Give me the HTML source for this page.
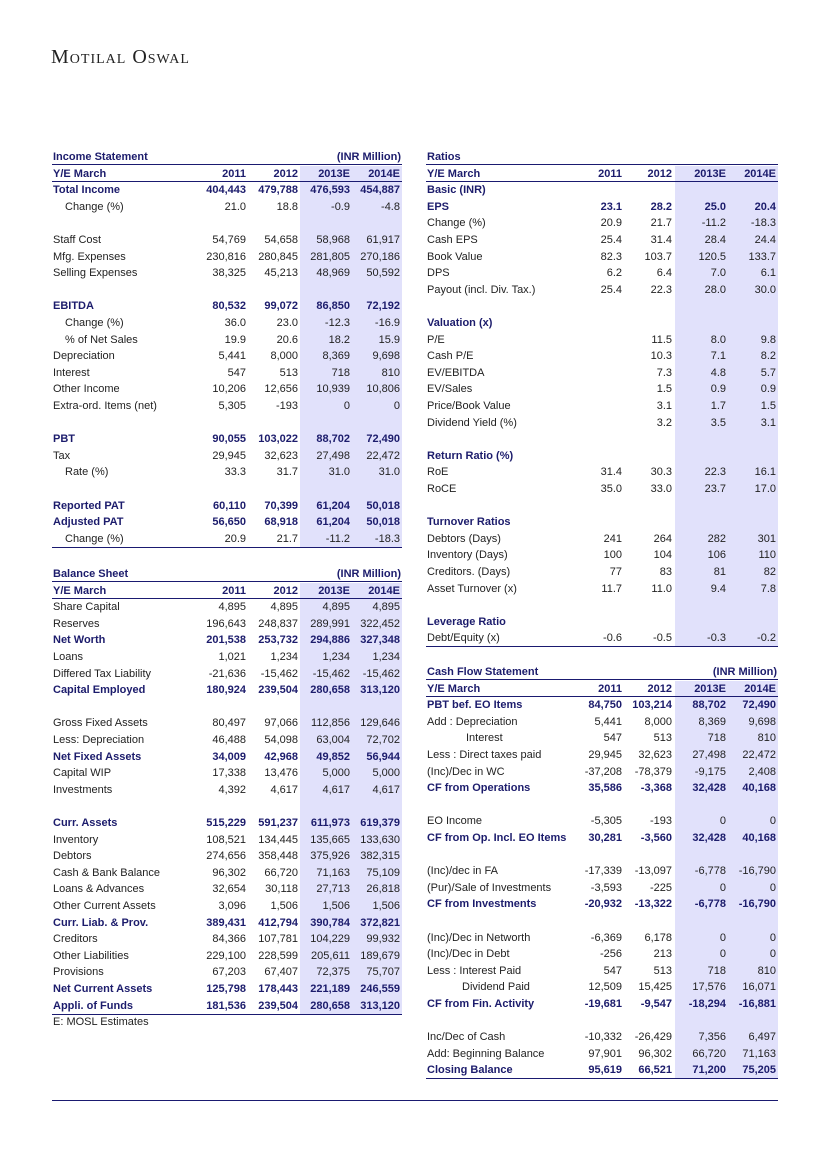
<!DOCTYPE html>
<html><head><meta charset="utf-8"><style>
body{margin:0;background:#fff;}
#page{position:relative;width:826px;height:1169px;overflow:hidden;background:#fff;font-family:"Liberation Sans",sans-serif;font-size:11px;color:#222;}
.logo{position:absolute;left:51px;top:46px;font-family:"Liberation Serif",serif;font-size:20px;font-variant:small-caps;letter-spacing:1px;color:#222;}
.shade{position:absolute;background:#e1e1fb;}
.hl{position:absolute;height:0;border-top:1.5px solid #1a1a70;}
.cell{position:absolute;height:16px;line-height:16px;white-space:nowrap;}
.num{text-align:right;width:60px;}
.b{font-weight:bold;color:#1c1c6c;}
</style></head><body>
<div id="page">
<div class="logo">Motilal Oswal</div>
<div class="hl" style="left:52px;top:1100px;width:726px;"></div>
</div>
<script>
// Income statement
const incYears=["2011","2012","2013E","2014E"];
const incRows=[
["Total Income",["404,443","479,788","476,593","454,887"],1,0],
["Change (%)",["21.0","18.8","-0.9","-4.8"],0,1],
null,
["Staff Cost",["54,769","54,658","58,968","61,917"],0,0],
["Mfg. Expenses",["230,816","280,845","281,805","270,186"],0,0],
["Selling Expenses",["38,325","45,213","48,969","50,592"],0,0],
null,
["EBITDA",["80,532","99,072","86,850","72,192"],1,0],
["Change (%)",["36.0","23.0","-12.3","-16.9"],0,1],
["% of Net Sales",["19.9","20.6","18.2","15.9"],0,1],
["Depreciation",["5,441","8,000","8,369","9,698"],0,0],
["Interest",["547","513","718","810"],0,0],
["Other Income",["10,206","12,656","10,939","10,806"],0,0],
["Extra-ord. Items (net)",["5,305","-193","0","0"],0,0],
null,
["PBT",["90,055","103,022","88,702","72,490"],1,0],
["Tax",["29,945","32,623","27,498","22,472"],0,0],
["Rate (%)",["33.3","31.7","31.0","31.0"],0,1],
null,
["Reported PAT",["60,110","70,399","61,204","50,018"],1,0],
["Adjusted PAT",["56,650","68,918","61,204","50,018"],1,0],
["Change (%)",["20.9","21.7","-11.2","-18.3"],0,1]
];
const balRows=[
["Share Capital",["4,895","4,895","4,895","4,895"],0,0],
["Reserves",["196,643","248,837","289,991","322,452"],0,0],
["Net Worth",["201,538","253,732","294,886","327,348"],1,0],
["Loans",["1,021","1,234","1,234","1,234"],0,0],
["Differed Tax Liability",["-21,636","-15,462","-15,462","-15,462"],0,0],
["Capital Employed",["180,924","239,504","280,658","313,120"],1,0],
null,
["Gross Fixed Assets",["80,497","97,066","112,856","129,646"],0,0],
["Less: Depreciation",["46,488","54,098","63,004","72,702"],0,0],
["Net Fixed Assets",["34,009","42,968","49,852","56,944"],1,0],
["Capital WIP",["17,338","13,476","5,000","5,000"],0,0],
["Investments",["4,392","4,617","4,617","4,617"],0,0],
null,
["Curr. Assets",["515,229","591,237","611,973","619,379"],1,0],
["Inventory",["108,521","134,445","135,665","133,630"],0,0],
["Debtors",["274,656","358,448","375,926","382,315"],0,0],
["Cash & Bank Balance",["96,302","66,720","71,163","75,109"],0,0],
["Loans & Advances",["32,654","30,118","27,713","26,818"],0,0],
["Other Current Assets",["3,096","1,506","1,506","1,506"],0,0],
["Curr. Liab. & Prov.",["389,431","412,794","390,784","372,821"],1,0],
["Creditors",["84,366","107,781","104,229","99,932"],0,0],
["Other Liabilities",["229,100","228,599","205,611","189,679"],0,0],
["Provisions",["67,203","67,407","72,375","75,707"],0,0],
["Net Current  Assets",["125,798","178,443","221,189","246,559"],1,0],
["Appli. of Funds",["181,536","239,504","280,658","313,120"],1,0]
];
const ratRows=[
["Basic (INR)",["","","",""],1,0],
["EPS",["23.1","28.2","25.0","20.4"],1,0],
["Change (%)",["20.9","21.7","-11.2","-18.3"],0,0],
["Cash EPS",["25.4","31.4","28.4","24.4"],0,0],
["Book Value",["82.3","103.7","120.5","133.7"],0,0],
["DPS",["6.2","6.4","7.0","6.1"],0,0],
["Payout (incl. Div. Tax.)",["25.4","22.3","28.0","30.0"],0,0],
null,
["Valuation (x)",["","","",""],1,0],
["P/E",["","11.5","8.0","9.8"],0,0],
["Cash P/E",["","10.3","7.1","8.2"],0,0],
["EV/EBITDA",["","7.3","4.8","5.7"],0,0],
["EV/Sales",["","1.5","0.9","0.9"],0,0],
["Price/Book Value",["","3.1","1.7","1.5"],0,0],
["Dividend Yield (%)",["","3.2","3.5","3.1"],0,0],
null,
["Return Ratio (%)",["","","",""],1,0],
["RoE",["31.4","30.3","22.3","16.1"],0,0],
["RoCE",["35.0","33.0","23.7","17.0"],0,0],
null,
["Turnover Ratios",["","","",""],1,0],
["Debtors (Days)",["241","264","282","301"],0,0],
["Inventory (Days)",["100","104","106","110"],0,0],
["Creditors. (Days)",["77","83","81","82"],0,0],
["Asset Turnover (x)",["11.7","11.0","9.4","7.8"],0,0],
null,
["Leverage Ratio",["","","",""],1,0],
["Debt/Equity (x)",["-0.6","-0.5","-0.3","-0.2"],0,0]
];
const cfRows=[
["PBT bef. EO Items",["84,750","103,214","88,702","72,490"],1,0],
["Add : Depreciation",["5,441","8,000","8,369","9,698"],0,0],
["Interest",["547","513","718","810"],0,3],
["Less : Direct taxes paid",["29,945","32,623","27,498","22,472"],0,0],
["(Inc)/Dec in WC",["-37,208","-78,379","-9,175","2,408"],0,0],
["CF from Operations",["35,586","-3,368","32,428","40,168"],1,0],
null,
["EO Income",["-5,305","-193","0","0"],0,0],
["CF from Op. Incl. EO Items",["30,281","-3,560","32,428","40,168"],1,0],
null,
["(Inc)/dec in FA",["-17,339","-13,097","-6,778","-16,790"],0,0],
["(Pur)/Sale of Investments",["-3,593","-225","0","0"],0,0],
["CF from Investments",["-20,932","-13,322","-6,778","-16,790"],1,0],
null,
["(Inc)/Dec in Networth",["-6,369","6,178","0","0"],0,0],
["(Inc)/Dec in Debt",["-256","213","0","0"],0,0],
["Less : Interest Paid",["547","513","718","810"],0,0],
["Dividend Paid",["12,509","15,425","17,576","16,071"],0,2],
["CF from Fin. Activity",["-19,681","-9,547","-18,294","-16,881"],1,0],
null,
["Inc/Dec of Cash",["-10,332","-26,429","7,356","6,497"],0,0],
["Add: Beginning Balance",["97,901","96,302","66,720","71,163"],0,0],
["Closing Balance",["95,619","66,521","71,200","75,205"],1,0]
];
const page=document.getElementById('page');
const STEP=16.6;
function mk(cls,style,text,name){
  const d=document.createElement('div');
  d.className=cls; d.style.cssText=style; if(text!==undefined) d.textContent=text;
  
  
  page.appendChild(d); return d;
}
function table(key,title,unit,rows,y0,x0,x1,cols,shadeX,tail){
  const c=i=>y0+STEP*i;
  const last=rows.length+1;
  const bottom=c(last)+8;
  mk('shade',`left:${shadeX}px;top:${c(1)-8}px;width:${x1-shadeX+1}px;height:${bottom-(c(1)-8)}px;`,undefined,key+'-forecast-shade');
  mk('cell b',`left:${x0}px;top:${c(0)-8}px;`,title,key+'-title');
  if(unit) mk('cell b',`left:${x1-100}px;width:100px;text-align:right;top:${c(0)-8}px;`,unit,key+'-unit');
  mk('hl',`left:${x0-1}px;top:${c(0)+7}px;width:${x1-x0+2}px;`,undefined,key+'-title-rule');
  mk('cell b',`left:${x0}px;top:${c(1)-8}px;`,'Y/E March',key+'-header-label');
  incYears.forEach((y,j)=>mk('cell num b',`left:${cols[j]-60}px;top:${c(1)-8}px;`,y,key+'-year-'+y));
  mk('hl',`left:${x0-1}px;top:${c(1)+7}px;width:${x1-x0+2}px;`,undefined,key+'-header-rule');
  rows.forEach((r,i)=>{
    if(!r) return;
    const y=c(i+2)-8;
    const ind=[0,12,35,39][r[3]];
    const slug=key+'-'+r[0].toLowerCase().replace(/[^a-z0-9]+/g,'-').replace(/^-|-$/g,'');
    mk('cell'+(r[2]?' b':''),`left:${x0+ind}px;top:${y}px;`,r[0],slug+'-label');
    r[1].forEach((v,j)=>{ if(v!=='') mk('cell num'+(r[2]?' b':''),`left:${cols[j]-60}px;top:${y}px;`,v,slug+'-'+incYears[j]); });
  });
  mk('hl',`left:${x0-1}px;top:${bottom}px;width:${x1-x0+2}px;`,undefined,key+'-bottom-rule');
  if(tail) mk('cell',`left:${x0}px;top:${c(last+1)-8}px;`,tail,key+'-footnote');
}
const L=[246,298,350,400], R=[622,672,726,776];
table('income','Income Statement','(INR Million)',incRows,157,53,401,L,300);
table('balance','Balance Sheet','(INR Million)',balRows,574,53,401,L,300,'E: MOSL Estimates');
table('ratios','Ratios','',ratRows,157,427,777,R,675);
table('cashflow','Cash Flow Statement','(INR Million)',cfRows,672,427,777,R,675);
</script>
</body></html>
